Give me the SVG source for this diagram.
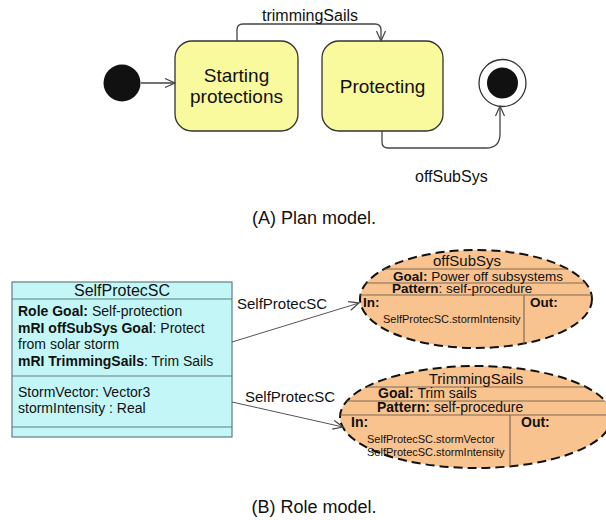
<svg xmlns="http://www.w3.org/2000/svg" width="606" height="520" viewBox="0 0 606 520">
  <style>
    text { font-family: "Liberation Sans", Arial, sans-serif; fill: #111; }
    .state { fill: #f9f99e; stroke: #333; stroke-width: 1.3; }
    .stateLabel { font-size: 19px; text-anchor: middle; }
    .edge { fill: none; stroke: #444; stroke-width: 1.3; }
    .edgeLabel { font-size: 16px; }
    .caption { font-size: 18px; text-anchor: middle; }
    .cls { fill: #c3f7f7; stroke: #5f7f7f; stroke-width: 1.2; }
    .clsText { font-size: 14px; }
    .assoc { fill: none; stroke: #555; stroke-width: 1; }
    .assocLabel { font-size: 15px; }
    .role { fill: #f8c38f; stroke: #111; stroke-width: 2; stroke-dasharray: 9 5; }
    .rule { stroke: #7d6a55; stroke-width: 1.2; fill: none; }
    .roleTitle { font-size: 15px; text-anchor: middle; }
    .roleText { font-size: 14px; }
    .tight { font-size: 13.5px; }
    .param { font-size: 11px; }
    .b { font-weight: bold; }
  </style>
  <defs>
    <marker id="open" viewBox="0 0 12 12" refX="11" refY="6" markerWidth="12" markerHeight="12" markerUnits="userSpaceOnUse" orient="auto">
      <path d="M1,1.5 L11,6 L1,10.5" fill="none" stroke="#444" stroke-width="1.2"/>
    </marker>
    <clipPath id="clipOff">
      <ellipse cx="476" cy="299" rx="116" ry="49"/>
    </clipPath>
    <clipPath id="clipTrim">
      <ellipse cx="476" cy="417" rx="136" ry="51"/>
    </clipPath>
  </defs>

  <!-- (A) state machine -->
  <g id="initial">
    <circle cx="122" cy="83" r="18.5" fill="#111"/>
  </g>
  <g id="starting">
    <rect class="state" x="175" y="41" width="123" height="90" rx="17"/>
    <text class="stateLabel" x="236.5" y="82">Starting</text>
    <text class="stateLabel" x="236.5" y="103">protections</text>
  </g>
  <g id="protecting">
    <rect class="state" x="322" y="41" width="121" height="90" rx="17"/>
    <text class="stateLabel" x="382.5" y="93">Protecting</text>
  </g>
  <g id="final">
    <circle cx="502.5" cy="83" r="23.5" fill="#fff" stroke="#333" stroke-width="1.3"/>
    <circle cx="502.5" cy="83" r="15.5" fill="#111"/>
  </g>

  <g id="transitions">
    <path class="edge" d="M141,83 L175,83" marker-end="url(#open)"/>
    <path class="edge" d="M237,41 L237,30 Q237,24 243,24 L375,24 Q381,24 381,30 L381,41" marker-end="url(#open)"/>
    <text class="edgeLabel" x="262" y="21">trimmingSails</text>
    <path class="edge" d="M382,131 L382,142 Q382,148 388,148 L486,148 Q500,148 500,134 L500,106" marker-end="url(#open)"/>
    <text class="edgeLabel" x="415" y="182">offSubSys</text>
  </g>

  <text class="caption" x="314" y="224">(A) Plan model.</text>

  <!-- (B) role model -->
  <g id="SelfProtecSC">
    <rect class="cls" x="12" y="282" width="220" height="155"/>
    <line class="cls" x1="12" y1="299" x2="232" y2="299"/>
    <line class="cls" x1="12" y1="376" x2="232" y2="376"/>
    <line class="cls" x1="12" y1="427" x2="232" y2="427"/>
    <text x="122" y="296" font-size="16" text-anchor="middle">SelfProtecSC</text>
    <text class="clsText" x="18" y="316"><tspan class="b">Role Goal:</tspan> Self-protection</text>
    <text class="clsText" x="18" y="333"><tspan class="b">mRI offSubSys Goal</tspan>: Protect</text>
    <text class="clsText" x="18" y="349">from solar storm</text>
    <text class="clsText" x="18" y="366"><tspan class="b">mRI TrimmingSails</tspan>: Trim Sails</text>
    <text class="clsText" x="18" y="397">StormVector: Vector3</text>
    <text class="clsText" x="18" y="413">stormIntensity : Real</text>
  </g>

  <g id="offSubSys">
    <ellipse class="role" cx="476" cy="299" rx="116" ry="49"/>
    <g clip-path="url(#clipOff)">
      <line class="rule" x1="350" y1="269" x2="600" y2="269"/>
      <line class="rule" x1="350" y1="283" x2="600" y2="283"/>
      <line class="rule" x1="350" y1="295" x2="600" y2="295"/>
      <line class="rule" x1="524" y1="295" x2="524" y2="350"/>
    </g>
    <text class="roleTitle" x="467" y="266" font-size="14.5">offSubSys</text>
    <text class="tight" x="393" y="280.5"><tspan class="b">Goal:</tspan> Power off subsystems</text>
    <text class="tight" x="392" y="293"><tspan class="b">Pattern</tspan>: self-procedure</text>
    <text class="tight b" x="363" y="307">In:</text>
    <text class="tight b" x="530" y="307">Out:</text>
    <text class="param" x="383" y="323">SelfProtecSC.stormIntensity</text>
  </g>

  <g id="TrimmingSails">
    <ellipse class="role" cx="476" cy="417" rx="136" ry="51"/>
    <g clip-path="url(#clipTrim)">
      <line class="rule" x1="330" y1="387" x2="620" y2="387"/>
      <line class="rule" x1="330" y1="401" x2="620" y2="401"/>
      <line class="rule" x1="330" y1="415" x2="620" y2="415"/>
      <line class="rule" x1="510" y1="415" x2="510" y2="470"/>
    </g>
    <text class="roleTitle" x="476" y="384">TrimmingSails</text>
    <text class="roleText" x="378" y="398"><tspan class="b">Goal:</tspan> Trim sails</text>
    <text class="roleText" x="377" y="412"><tspan class="b">Pattern:</tspan> self-procedure</text>
    <text class="roleText b" x="351" y="427">In:</text>
    <text class="roleText b" x="521" y="427">Out:</text>
    <text class="param" x="367" y="443">SelfProtecSC.stormVector</text>
    <text class="param" x="367" y="456">SelfProtecSC.stormIntensity</text>
  </g>

  <g id="associations">
    <path class="assoc" d="M232,342 L359,303" marker-end="url(#open)"/>
    <text class="assocLabel" x="237" y="309">SelfProtecSC</text>
    <path class="assoc" d="M232,402 L343,427" marker-end="url(#open)"/>
    <text class="assocLabel" x="245" y="402">SelfProtecSC</text>
  </g>

  <text class="caption" x="314" y="513">(B) Role model.</text>
</svg>
